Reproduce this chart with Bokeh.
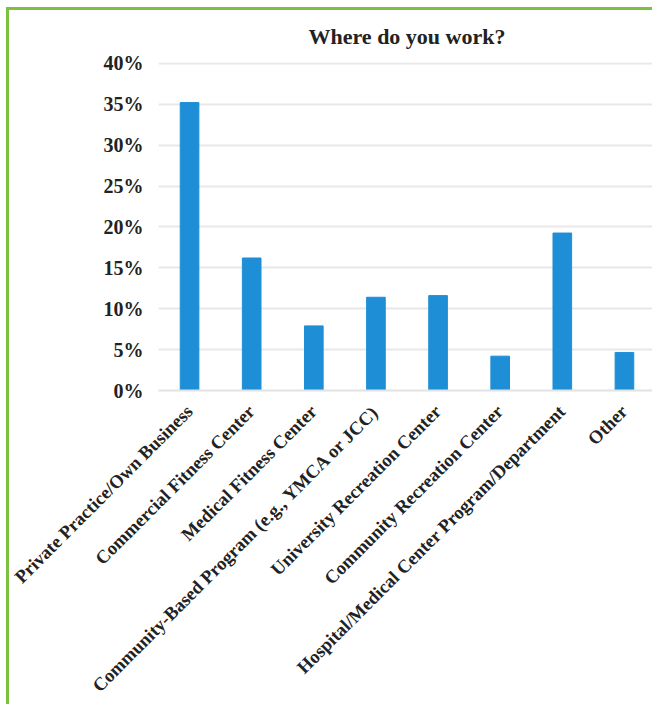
import math
from bokeh.plotting import figure
from bokeh.models import NumeralTickFormatter, FixedTicker, Range1d
from bokeh.embed import file_html
from bokeh.resources import INLINE

categories = [
    "Private Practice/Own Business",
    "Commercial Fitness Center",
    "Medical Fitness Center",
    "Community-Based Program (e.g., YMCA or JCC)",
    "University Recreation Center",
    "Community Recreation Center",
    "Hospital/Medical Center Program/Department",
    "Other",
]
shares = [0.352, 0.162, 0.079, 0.114, 0.116, 0.042, 0.1925, 0.0465]
y_ticks = [0.0, 0.05, 0.10, 0.15, 0.20, 0.25, 0.30, 0.35, 0.40]
title_text = "Where do you work?"

FONT = "Liberation Serif"
GREEN = "#7cc142"

p = figure(
    x_range=categories,
    y_range=Range1d(0, 0.401),
    width=646,
    height=697,
    output_backend="svg",
    toolbar_location=None,
    title=title_text,
    min_border_left=149,
    min_border_right=0,
    min_border_top=52,
    min_border_bottom=317,
)
p.styles = {"border-left": f"3px solid {GREEN}", "border-top": f"3px solid {GREEN}",
            "margin-left": "6px", "margin-top": "7px"}

p.vbar(x=categories, top=shares, width=0.3, color="#1e8fd6")

p.title.align = "center"
p.title.vertical_align = "top"
p.title.text_font = FONT
p.title.text_font_style = "bold"
p.title.text_font_size = "22px"
p.title.text_color = "#222222"
p.title.standoff = 24
p.title.offset = 8

p.outline_line_color = None
p.background_fill_color = "white"
p.border_fill_color = "white"

p.xgrid.grid_line_color = None
p.ygrid.grid_line_color = "#e8e8e8"
p.ygrid.grid_line_width = 2

p.yaxis.ticker = FixedTicker(ticks=y_ticks)
p.yaxis.formatter = NumeralTickFormatter(format="0%")
p.yaxis.axis_line_color = None
p.yaxis.major_tick_line_color = None
p.yaxis.major_tick_out = 0
p.yaxis.major_tick_in = 0
p.yaxis.minor_tick_line_color = None
p.yaxis.major_label_standoff = 15
p.yaxis.major_label_text_font = FONT
p.yaxis.major_label_text_font_style = "bold"
p.yaxis.major_label_text_font_size = "20px"
p.yaxis.major_label_text_color = "#222222"

p.xaxis.axis_line_color = "#e2e2e2"
p.xaxis.axis_line_width = 2
p.xaxis.major_tick_line_color = None
p.xaxis.minor_tick_line_color = None
p.xaxis.major_label_orientation = math.pi / 4
p.xaxis.major_label_standoff = 12
p.xaxis.major_label_text_font = FONT
p.xaxis.major_label_text_font_style = "bold"
p.xaxis.major_label_text_font_size = "18.5px"
p.xaxis.major_label_text_color = "#222222"

open("out.html", "w").write(file_html(p, INLINE))
